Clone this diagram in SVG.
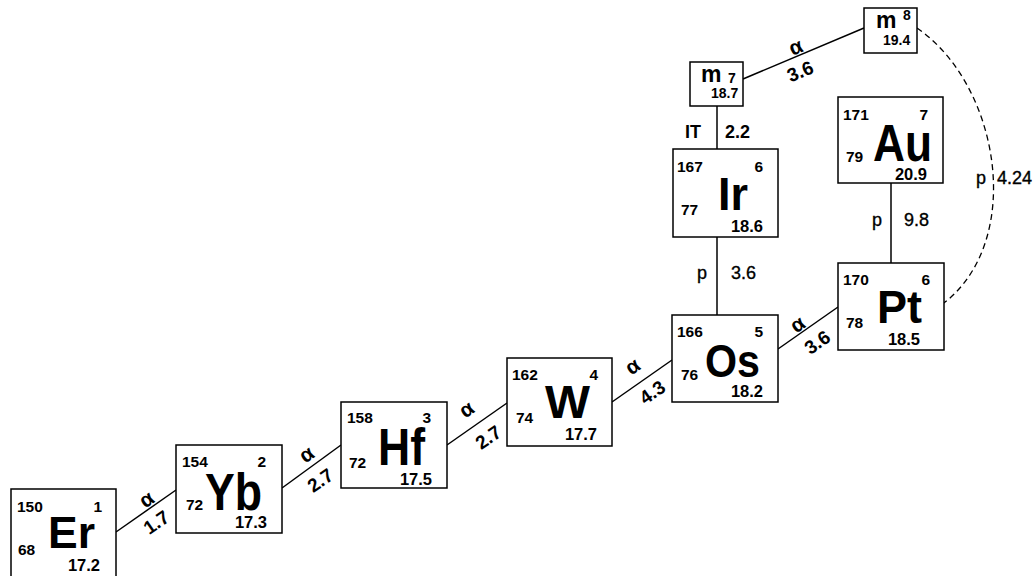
<svg xmlns="http://www.w3.org/2000/svg" width="1035" height="576" viewBox="0 0 1035 576">
<style>
text { font-family: "Liberation Sans", Arial, sans-serif; fill: #000; }
.box { fill: #fff; stroke: #000; stroke-width: 1.5; }
.ln { stroke: #000; stroke-width: 1.5; fill: none; }
.dash { stroke: #000; stroke-width: 1.3; fill: none; stroke-dasharray: 6 4; }
.a { font-size: 15.5px; font-weight: bold; }
.h { font-size: 16.5px; font-weight: bold; text-anchor: end; }
.c { font-size: 15.5px; font-weight: bold; text-anchor: end; }
.s { font-weight: bold; }
.al { font-size: 21px; font-weight: bold; text-anchor: middle; }
.nl { font-size: 19px; font-weight: bold; text-anchor: middle; }
.vl { font-size: 18px; stroke: #000; stroke-width: 0.35; }
.vb { font-size: 18px; font-weight: bold; }
.mm { font-size: 23px; font-weight: bold; }
.ms { font-size: 14px; font-weight: bold; }
</style>
<rect width="1035" height="576" fill="#fff"/>
<g id="connectors">
<line class="ln" x1="116" y1="532" x2="176" y2="490"/>
<line class="ln" x1="282" y1="488" x2="341" y2="445"/>
<line class="ln" x1="447" y1="445" x2="507" y2="403"/>
<line class="ln" x1="612" y1="402" x2="672" y2="360"/>
<line class="ln" x1="778" y1="349" x2="838" y2="307"/>
<line class="ln" x1="743" y1="79" x2="864" y2="28"/>
<line class="ln" x1="717" y1="106" x2="717" y2="149"/>
<line class="ln" x1="717" y1="237" x2="717" y2="315"/>
<line class="ln" x1="891" y1="183" x2="891" y2="263"/>
<path class="dash" d="M917,28 C1000,85 1025,240 944,303"/>
<text class="al" x="147" y="506" transform="rotate(-35 147 500)">α</text>
<text class="nl" x="156" y="529" transform="rotate(-35 156 522)">1.7</text>
<text class="al" x="307" y="461" transform="rotate(-35 307 455)">α</text>
<text class="nl" x="320" y="487" transform="rotate(-35 320 480)">2.7</text>
<text class="al" x="467" y="416" transform="rotate(-35 467 410)">α</text>
<text class="nl" x="488" y="444" transform="rotate(-35 488 437)">2.7</text>
<text class="al" x="633" y="373" transform="rotate(-35 633 367)">α</text>
<text class="nl" x="652" y="399" transform="rotate(-35 652 392)">4.3</text>
<text class="al" x="798" y="331" transform="rotate(-35 798 325)">α</text>
<text class="nl" x="817" y="349" transform="rotate(-35 817 342)">3.6</text>
<text class="al" x="796" y="54" transform="rotate(-23 796 48)">α</text>
<text class="nl" x="800" y="78" transform="rotate(-23 800 71)">3.6</text>
<text class="vb" x="685" y="138">IT</text>
<text class="vb" x="725" y="138">2.2</text>
<text class="vl" x="697" y="279">p</text>
<text class="vl" x="731" y="279">3.6</text>
<text class="vl" x="872" y="226">p</text>
<text class="vl" x="904" y="226">9.8</text>
<text class="vl" x="976" y="184">p</text>
<text class="vl" x="997" y="184">4.24</text>
</g>
<g id="Er">
<rect class="box" x="11" y="489" width="105" height="92"/>
<text class="a" x="17" y="512">150</text>
<text class="c" x="102" y="512">1</text>
<text class="a" x="18" y="555">68</text>
<text class="s" x="48" y="548" font-size="44" textLength="47" lengthAdjust="spacingAndGlyphs">Er</text>
<text class="h" x="100" y="571">17.2</text>
</g>
<g id="Yb">
<rect class="box" x="176" y="445" width="106" height="88"/>
<text class="a" x="182" y="467">154</text>
<text class="c" x="266" y="467">2</text>
<text class="a" x="186" y="510">72</text>
<text class="s" x="205" y="510" font-size="51" textLength="57" lengthAdjust="spacingAndGlyphs">Yb</text>
<text class="h" x="267" y="528">17.3</text>
</g>
<g id="Hf">
<rect class="box" x="341" y="402" width="106" height="86"/>
<text class="a" x="347" y="423">158</text>
<text class="c" x="431" y="423">3</text>
<text class="a" x="349" y="468">72</text>
<text class="s" x="378" y="465" font-size="51" textLength="47" lengthAdjust="spacingAndGlyphs">Hf</text>
<text class="h" x="432" y="485">17.5</text>
</g>
<g id="W">
<rect class="box" x="507" y="358" width="105" height="88"/>
<text class="a" x="512" y="380">162</text>
<text class="c" x="598" y="380">4</text>
<text class="a" x="516" y="423">74</text>
<text class="s" x="545" y="418" font-size="46" textLength="45" lengthAdjust="spacingAndGlyphs">W</text>
<text class="h" x="597" y="440">17.7</text>
</g>
<g id="Os">
<rect class="box" x="672" y="315" width="106" height="87"/>
<text class="a" x="677" y="337">166</text>
<text class="c" x="763" y="337">5</text>
<text class="a" x="681" y="380">76</text>
<text class="s" x="705" y="377" font-size="47" textLength="55" lengthAdjust="spacingAndGlyphs">Os</text>
<text class="h" x="763" y="397">18.2</text>
</g>
<g id="Pt">
<rect class="box" x="838" y="263" width="106" height="87"/>
<text class="a" x="843" y="285">170</text>
<text class="c" x="930" y="285">6</text>
<text class="a" x="846" y="328">78</text>
<text class="s" x="877" y="323" font-size="46" textLength="45" lengthAdjust="spacingAndGlyphs">Pt</text>
<text class="h" x="920" y="345">18.5</text>
</g>
<g id="Au">
<rect class="box" x="838" y="97" width="105" height="86"/>
<text class="a" x="843" y="120">171</text>
<text class="c" x="928" y="120">7</text>
<text class="a" x="846" y="162">79</text>
<text class="s" x="873" y="161" font-size="51" textLength="59" lengthAdjust="spacingAndGlyphs">Au</text>
<text class="h" x="927" y="180">20.9</text>
</g>
<g id="Ir">
<rect class="box" x="673" y="149" width="105" height="88"/>
<text class="a" x="677" y="172">167</text>
<text class="c" x="763" y="172">6</text>
<text class="a" x="681" y="215">77</text>
<text class="s" x="718" y="210" font-size="46" textLength="30" lengthAdjust="spacingAndGlyphs">Ir</text>
<text class="h" x="763" y="232">18.6</text>
</g>
<g id="m7">
<rect class="box" x="690" y="62" width="53" height="44"/>
<text class="mm" x="701" y="82">m</text>
<text class="ms" x="728" y="83">7</text>
<text class="ms" x="711" y="98">18.7</text>
</g>
<g id="m8">
<rect class="box" x="864" y="8" width="53" height="45"/>
<text class="mm" x="876" y="28">m</text>
<text class="ms" x="903" y="20">8</text>
<text class="ms" x="883" y="45">19.4</text>
</g>
</svg>
